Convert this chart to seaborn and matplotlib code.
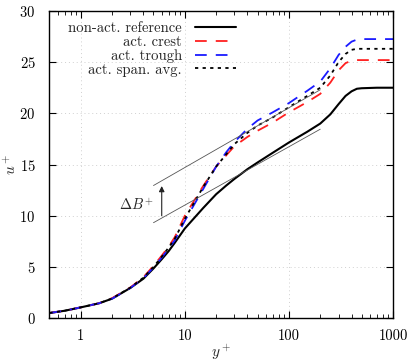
import numpy as np
import pandas as pd
import matplotlib
matplotlib.use("Agg")
import matplotlib.pyplot as plt
import seaborn as sns
from matplotlib.ticker import FixedLocator, FixedFormatter, LogLocator, NullFormatter

# y+ sample positions (shared by all profiles)
yplus = [0.5, 0.7, 1, 1.5, 2, 3, 4, 5, 6, 7, 8, 10, 12, 15, 20, 25, 30, 40, 50,
         70, 100, 150, 200, 250, 300, 350, 400, 450, 500, 700, 1000]

u_reference = [0.5, 0.72, 1.05, 1.45, 1.9, 2.95, 3.85, 4.85, 5.75, 6.55, 7.35, 8.75,
               9.65, 10.75, 12.1, 12.95, 13.6, 14.55, 15.2, 16.15, 17.15, 18.2, 19.0,
               19.9, 20.9, 21.7, 22.15, 22.4, 22.45, 22.5, 22.5]
u_crest = [0.5, 0.72, 1.05, 1.45, 1.95, 3.0, 4.0, 5.1, 6.1, 7.0, 7.9, 10.0,
           11.3, 12.9, 14.8, 15.9, 16.8, 17.7, 18.3, 19.1, 20.1, 21.1, 21.9,
           23.0, 24.2, 24.9, 25.15, 25.2, 25.2, 25.2, 25.2]
u_trough = [0.5, 0.72, 1.05, 1.45, 1.9, 2.95, 3.9, 4.95, 5.9, 6.8, 7.6, 9.5,
            10.9, 12.6, 14.8, 16.2, 17.2, 18.5, 19.3, 20.1, 21.0, 22.2, 23.1,
            24.4, 25.7, 26.5, 27.0, 27.2, 27.25, 27.25, 27.25]
u_span_avg = [0.5, 0.72, 1.05, 1.45, 1.92, 2.98, 3.95, 5.0, 6.0, 6.9, 7.75, 9.7,
              11.1, 12.8, 14.8, 16.0, 17.0, 18.1, 18.8, 19.6, 20.6, 21.7, 22.5,
              23.7, 25.0, 25.8, 26.2, 26.3, 26.3, 26.3, 26.3]

# log-law guide lines
loglaw_x = [5, 200]
loglaw_lower = [9.32, 18.45]
loglaw_upper = [12.95, 22.3]
arrow_x = 6
arrow_from, arrow_to = 10.0, 12.9

sns.set_theme(style="ticks")
plt.rcParams['font.family'] = ['serif']
plt.rcParams['font.serif'] = ['cmr10', 'DejaVu Serif']
plt.rcParams['mathtext.fontset'] = 'cm'
plt.rcParams['axes.formatter.use_mathtext'] = True

fig = plt.figure(figsize=(4.15, 3.64), dpi=100)
ax = fig.add_axes([0.119, 0.126, 0.828, 0.844])

series = [
    ("non-act. reference", u_reference, "black", "-", 1.5),
    ("act. crest", u_crest, "#ff2020", (0, (6.5, 5)), 1.3),
    ("act. trough", u_trough, "#1a1aff", (0, (6.5, 5)), 1.3),
    ("act. span. avg.", u_span_avg, "black", (0, (1.8, 2.4)), 1.3),
]
for label, u, color, ls, lw in series:
    df = pd.DataFrame({"yplus": yplus, "u": u})
    sns.lineplot(data=df, x="yplus", y="u", ax=ax, color=color, linestyle=ls,
                 linewidth=lw, label=label)

# log-law lines and shift arrow
ax.plot(loglaw_x, loglaw_lower, color="#555555", lw=0.6)
ax.plot(loglaw_x, loglaw_upper, color="#555555", lw=0.6)
ax.annotate("", xy=(arrow_x, arrow_to), xytext=(arrow_x, arrow_from),
            arrowprops=dict(arrowstyle="-|>", color="#222222", lw=0.8,
                            mutation_scale=8, shrinkA=0, shrinkB=0))
ax.text(5.0, 11.0, r"$\Delta B^{+}$", ha="right", va="center", fontsize=10.5)

ax.set_xscale("log")
ax.set_xlim(0.5, 1000)
ax.set_ylim(0, 30)
ax.xaxis.set_major_locator(FixedLocator([1, 10, 100, 1000]))
ax.xaxis.set_major_formatter(FixedFormatter(["1", "10", "100", "1000"]))
ax.xaxis.set_minor_locator(LogLocator(base=10, subs=np.arange(2, 10)))
ax.xaxis.set_minor_formatter(NullFormatter())
ax.set_yticks([0, 5, 10, 15, 20, 25, 30])
ax.tick_params(which="both", direction="in", top=True, right=True,
               labelsize=10.5, colors="black")
ax.tick_params(axis="x", which="major", pad=8)
ax.tick_params(axis="y", which="major", pad=10)
ax.tick_params(which="major", length=5, width=0.8)
ax.tick_params(which="minor", length=3, width=0.6)
ax.grid(True, which="major", linestyle=(0, (1, 3)), color="#d0d0d0", linewidth=0.7)
for s in ax.spines.values():
    s.set_color("black")
    s.set_linewidth(1.0)

ax.set_xlabel(r"$y^+$", fontsize=11)
ax.set_ylabel(r"$u^+$", fontsize=11)
ax.xaxis.set_label_coords(0.5, -0.08)
ax.yaxis.set_label_coords(-0.087, 0.5)

ax.legend(loc="upper left", bbox_to_anchor=(0.055, 0.965), frameon=False,
          markerfirst=False, fontsize=10.6, handlelength=2.8, labelspacing=0.0,
          handletextpad=0.9, borderaxespad=0, borderpad=0)

fig.savefig("out.png", dpi=100)
